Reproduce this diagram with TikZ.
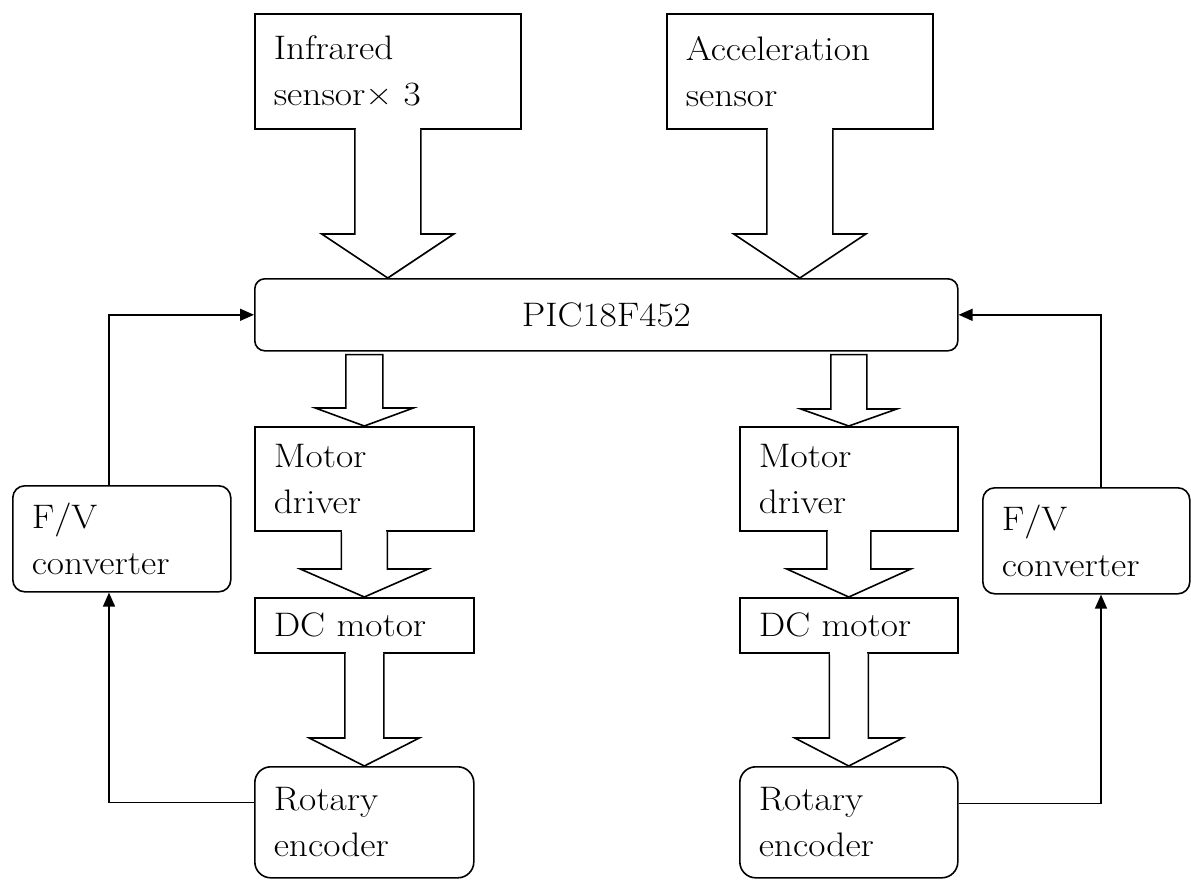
\documentclass[tikz,border=0pt]{standalone}
\usepackage{fontspec}
\setmainfont{Latin Modern Roman}[FakeStretch=1.1]
\usepackage{tikz}
\usetikzlibrary{arrows.meta,positioning,calc}
\tikzset{
  blk/.style={draw,line width=1.6pt,fill=white,inner xsep=19pt,inner ysep=0pt,align=left,
              anchor=north west,font=\fontsize{34}{46}\selectfont},
  rblk/.style={blk,rounded corners=16pt},
  fatarr/.style={draw,line width=1.6pt,fill=white,line join=miter},
  fbarr/.style={line width=1.6pt,-{Triangle[length=14pt,width=12pt]}},
}
\newcommand{\fatarrow}[5]{%
  \draw[fatarr] ($#1+(-#3,0)$) -- ($#2+(-#3,-#5)$) -- ($#2+(-#4,-#5)$) -- #2
    -- ($#2+(#4,-#5)$) -- ($#2+(#3,-#5)$) -- ($#1+(#3,0)$);
  \fill[white] ($#1+(-#3+1,-1.5)$) rectangle ($#1+(#3-1,1.5)$);}
\newcommand{\fatarrowc}[5]{%
  \draw[fatarr] ($#1+(-#3,3)$) -- ($#2+(-#3,-#5)$) -- ($#2+(-#4,-#5)$) -- #2
    -- ($#2+(#4,-#5)$) -- ($#2+(#3,-#5)$) -- ($#1+(#3,3)$) -- cycle;}

\begin{document}
\begin{tikzpicture}[x=1pt,y=-1pt]
  \useasboundingbox (0,0) rectangle (1191,879);
  \node[blk,minimum width=266pt,minimum height=115pt,text width=228pt] (ir) at (254,13) {Infrared\\sensor× 3};
  \node[blk,minimum width=266pt,minimum height=115pt,text width=228pt] (ac) at (666,13) {Acceleration\\sensor};
  \node[rblk,rounded corners=10pt,minimum width=703pt,minimum height=72pt,align=center] (pic) at (254,278) {PIC18F452};
  \node[blk,minimum width=219pt,minimum height=104pt,text width=181pt] (md1) at (254,426) {Motor\\driver};
  \node[blk,minimum width=219pt,minimum height=55pt,text width=181pt] (dc1) at (254,597) {DC motor};
  \node[rblk,minimum width=219pt,minimum height=111pt,text width=181pt] (re1) at (254,766) {Rotary\\encoder};
  \node[blk,minimum width=218pt,minimum height=104pt,text width=180pt] (md2) at (739,426) {Motor\\driver};
  \node[blk,minimum width=218pt,minimum height=55pt,text width=180pt] (dc2) at (739,597) {DC motor};
  \node[rblk,minimum width=218pt,minimum height=111pt,text width=180pt] (re2) at (739,766) {Rotary\\encoder};
  \node[rblk,rounded corners=12pt,minimum width=218pt,minimum height=106pt,text width=180pt] (fv1) at (12,485) {F/V\\converter};
  \node[rblk,rounded corners=12pt,minimum width=207pt,minimum height=106pt,text width=169pt] (fv2) at (982,487) {F/V\\converter};

  \fatarrow{(ir.south)}{(ir.south |- pic.north)}{33}{66}{44}
  \fatarrow{(ac.south)}{(ac.south |- pic.north)}{33}{66}{44}
  \fatarrowc{(md1.north |- pic.south)}{(md1.north)}{18.5}{49}{18}
  \fatarrowc{(md2.north |- pic.south)}{(md2.north)}{18}{48}{17}
  \fatarrow{(md1.south)}{(dc1.north)}{23}{64}{28}
  \fatarrow{(md2.south)}{(dc2.north)}{22}{62}{28}
  \fatarrow{(dc1.south)}{(re1.north)}{19.5}{55}{28}
  \fatarrow{(dc2.south)}{(re2.north)}{19.5}{54}{28}

  \coordinate (lx) at (109,0);
  \coordinate (rx) at (1101,0);
  \draw[fbarr] ([yshift=20pt]re1.west) -| (lx |- fv1.south);
  \draw[fbarr] (lx |- fv1.north) |- (pic.west);
  \draw[fbarr] ([yshift=19pt]re2.east) -| (rx |- fv2.south);
  \draw[fbarr] (rx |- fv2.north) |- (pic.east);
\end{tikzpicture}
\end{document}
